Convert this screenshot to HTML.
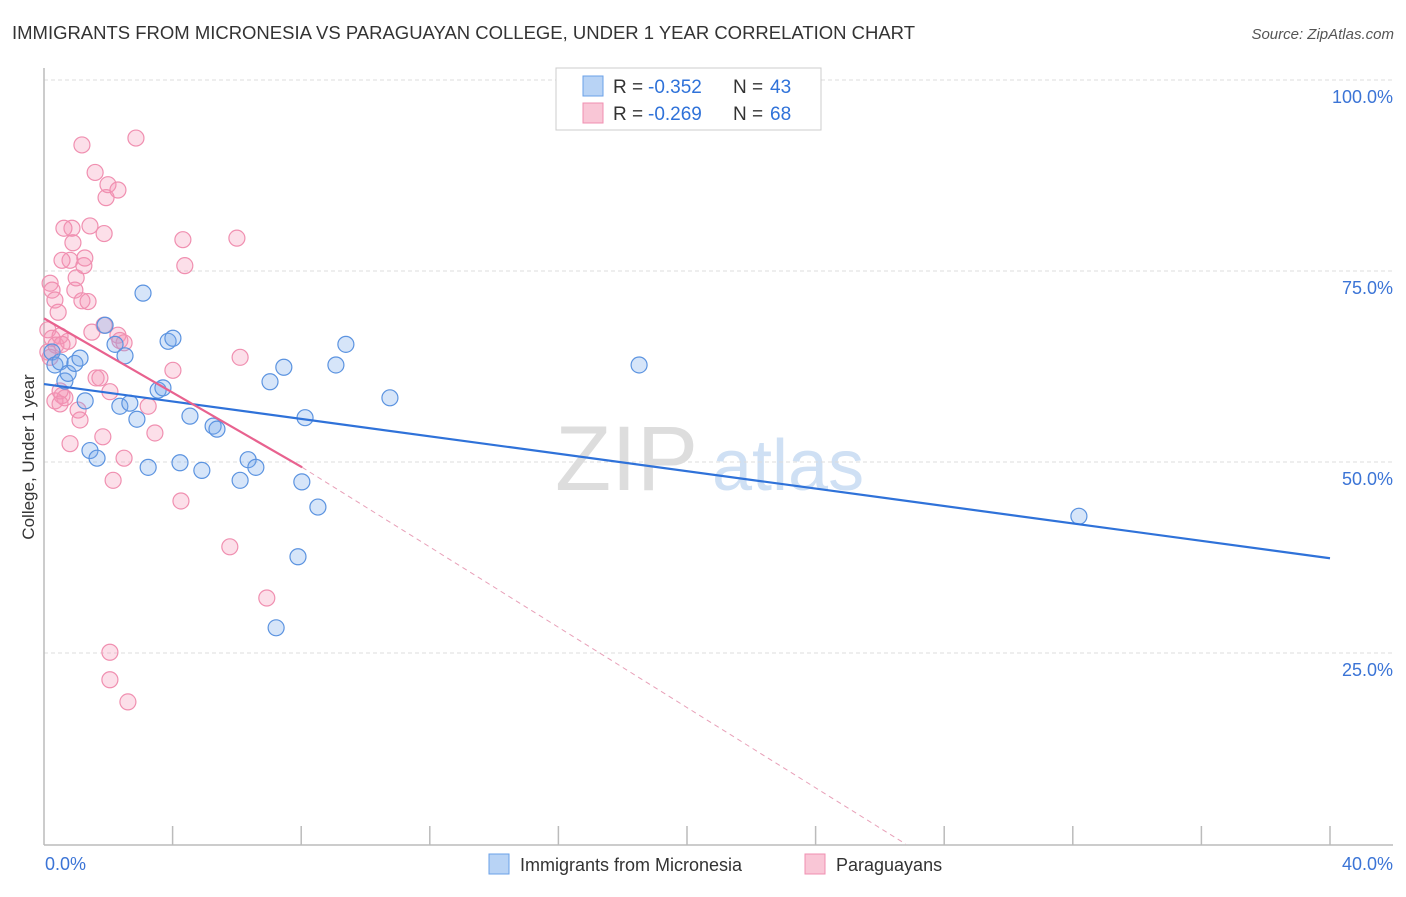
<!DOCTYPE html>
<html><head><meta charset="utf-8"><style>
body{margin:0;background:#fff;font-family:"Liberation Sans",sans-serif;}
svg text{font-family:"Liberation Sans",sans-serif;}
</style></head><body>
<svg id="chart" width="1406" height="892" xmlns="http://www.w3.org/2000/svg">
<text x="12" y="39" font-size="18" fill="#333" textLength="903" lengthAdjust="spacingAndGlyphs">IMMIGRANTS FROM MICRONESIA VS PARAGUAYAN COLLEGE, UNDER 1 YEAR CORRELATION CHART</text>
<text x="1394" y="39" font-size="15" fill="#555" text-anchor="end" font-style="italic">Source: ZipAtlas.com</text>
<g>
<text x="555" y="490" font-size="92" fill="#ddd" font-family="Liberation Serif,serif">ZIP</text>
<text x="712" y="490" font-size="72" fill="#cfe0f4">atlas</text>
</g>
<g id="grid"></g>
<g id="axes"></g>
<g id="pts"></g>
<g id="lines"></g>
<text transform="translate(34,457) rotate(-90)" font-size="17" fill="#333" text-anchor="middle">College, Under 1 year</text>
<g>
<rect x="556" y="68" width="265" height="62" fill="#fff" stroke="#ccc"/>
<rect x="583" y="76" width="20" height="20" fill="#b8d3f5" stroke="#6aa0e8"/>
<rect x="583" y="103" width="20" height="20" fill="#f9c6d6" stroke="#f08fb0"/>
<text x="613" y="93" font-size="19" fill="#333">R =</text>
<text x="648" y="93" font-size="19" fill="#2f72d9">-0.352</text>
<text x="733" y="93" font-size="19" fill="#333">N =</text>
<text x="770" y="93" font-size="19" fill="#2f72d9">43</text>
<text x="613" y="120" font-size="19" fill="#333">R =</text>
<text x="648" y="120" font-size="19" fill="#2f72d9">-0.269</text>
<text x="733" y="120" font-size="19" fill="#333">N =</text>
<text x="770" y="120" font-size="19" fill="#2f72d9">68</text>
</g>
<g>
<rect x="489" y="854" width="20" height="20" fill="#b8d3f5" stroke="#6aa0e8"/>
<text x="520" y="871" font-size="18" fill="#333">Immigrants from Micronesia</text>
<rect x="805" y="854" width="20" height="20" fill="#f9c6d6" stroke="#f08fb0"/>
<text x="836" y="871" font-size="18" fill="#333">Paraguayans</text>
</g>
</svg>
<script>
const yTicks=[25,50,75,100];
const xTickVals=[0,4,8,12,16,20,24,28,32,36,40];
const blueX=[0.25,0.34,0.5,0.65,0.75,0.96,1.12,1.28,1.43,1.65,1.9,2.21,2.52,2.36,2.67,2.89,3.08,3.24,3.55,3.7,3.86,4.01,4.23,4.54,4.91,5.26,5.38,6.1,6.35,6.59,7.03,7.46,8.12,8.02,8.52,7.9,7.22,9.08,9.39,10.76,18.51,32.19];
const blueY=[64.4,62.7,63.1,60.6,61.6,62.9,63.6,58.0,51.5,50.5,67.9,65.4,63.9,57.3,57.7,55.6,72.1,49.3,59.4,59.7,65.8,66.2,49.9,56.0,48.9,54.7,54.3,47.6,50.3,49.3,60.5,62.4,55.8,47.4,44.1,37.6,28.3,62.7,65.4,58.4,62.7,42.9];
const pinkX=[0.19,0.25,0.34,0.44,0.12,0.25,0.37,0.5,0.56,0.65,0.75,0.81,0.87,0.9,0.96,1.0,0.81,1.06,1.12,1.18,1.18,1.24,1.27,1.37,1.43,1.49,1.59,1.62,1.74,1.83,1.87,1.87,1.93,1.99,2.05,2.15,2.3,2.3,2.36,2.49,2.49,2.86,3.24,3.45,4.01,4.26,4.32,4.38,5.78,6.0,6.1,6.93,2.05,2.05,2.61,0.56,0.12,0.19,0.34,0.5,0.5,0.56,0.62];
const pinkY=[73.4,72.5,71.2,69.6,67.3,66.2,65.3,66.5,58.7,58.4,65.8,52.4,80.6,78.7,72.5,74.1,76.4,56.8,55.5,91.5,71.1,75.7,76.7,71.0,80.9,67.0,87.9,61.0,61.0,53.3,79.9,67.9,84.6,86.3,59.2,47.6,85.6,66.6,65.9,50.5,65.6,92.4,57.3,53.8,62.0,44.9,79.1,75.7,38.9,79.3,63.7,32.2,25.1,21.5,18.6,65.4,64.4,63.7,58.0,59.3,57.6,76.4,80.6];
const X=v=>44+v*(1286/40), Y=v=>844-v*(764/100);
const ns="http://www.w3.org/2000/svg";
function mk(t,p,a){const e=document.createElementNS(ns,t);for(const k in a)e.setAttribute(k,a[k]);p.appendChild(e);return e;}
const grid=document.getElementById('grid'),axes=document.getElementById('axes'),pts=document.getElementById('pts'),lines=document.getElementById('lines');
yTicks.forEach(v=>{
 const l=mk('line',grid,{x1:44,x2:1393,y1:Y(v),y2:Y(v),stroke:'#ddd','stroke-dasharray':'4,3'});
 
 
 const t=mk('text',axes,{x:1393,y:Y(v)+23,'font-size':18,fill:'#3b74d6','text-anchor':'end'});
 t.textContent=v.toFixed(1)+'%';
 
 
});
mk('line',axes,{x1:44,x2:44,y1:68,y2:845,stroke:'#bbb','stroke-width':1.5});
mk('line',axes,{x1:44,x2:1393,y1:845,y2:845,stroke:'#bbb','stroke-width':1.5});
xTickVals.forEach(v=>{
 if(v>0){const tk=mk('line',axes,{x1:X(v),x2:X(v),y1:826,y2:845,stroke:'#bbb','stroke-width':1.5});
 
 }
});
const xl0=mk('text',axes,{x:45,y:870,'font-size':18,fill:'#3b74d6'});xl0.textContent='0.0%';


const xl1=mk('text',axes,{x:1393,y:870,'font-size':18,fill:'#3b74d6','text-anchor':'end'});xl1.textContent='40.0%';


pinkX.forEach((v,i)=>{const c=mk('circle',pts,{cx:X(v),cy:Y(pinkY[i]),r:8,fill:'rgba(244,150,182,0.3)',stroke:'#f08fb0','stroke-width':1.2});
 
 });
blueX.forEach((v,i)=>{const c=mk('circle',pts,{cx:X(v),cy:Y(blueY[i]),r:8,fill:'rgba(120,170,235,0.3)',stroke:'#5b93e0','stroke-width':1.2});
 
 });
const bl=mk('line',lines,{x1:X(0),y1:Y(60.2),x2:X(40),y2:Y(37.4),stroke:'#2f72d9','stroke-width':2.2});


const pl=mk('line',lines,{x1:X(0),y1:Y(68.8),x2:X(8.03),y2:Y(49.3),stroke:'#e8628f','stroke-width':2.2});


const pd=mk('line',lines,{x1:X(8.03),y1:Y(49.3),x2:X(26.8),y2:Y(0),stroke:'#e8a0b8','stroke-width':1,'stroke-dasharray':'5,4'});


</script>
</body></html>
